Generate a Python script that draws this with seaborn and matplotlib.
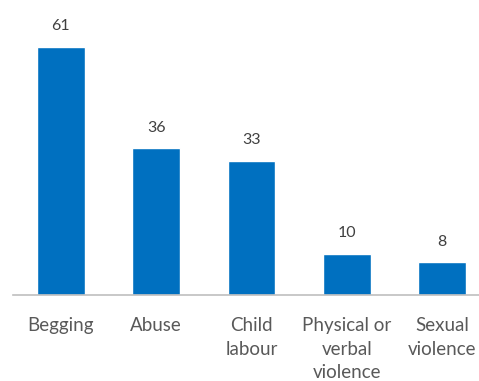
import matplotlib
matplotlib.use("Agg")
import matplotlib.pyplot as plt
import seaborn as sns
import pandas as pd

categories = ["Begging", "Abuse", "Child\nlabour", "Physical or\nverbal\nviolence", "Sexual\nviolence"]
values = [61, 36, 33, 10, 8]

sns.set_style("white")
plt.rcParams['font.family'] = ['Lato', 'DejaVu Sans']

df = pd.DataFrame({"cat": categories, "val": values})
fig = plt.figure(figsize=(4.79, 3.81), dpi=100)
ax = fig.add_axes([13/479, (381-295)/381, 477/479, (295-10)/381])
sns.barplot(data=df, x="cat", y="val", color="#0070C0", saturation=1, width=0.5, ax=ax)
ax.set_ylim(0, 70)
ax.set_xlim(-0.5, 4.5)
for s in ["top", "right", "left"]:
    ax.spines[s].set_visible(False)
ax.spines["bottom"].set_color("#BFBFBF")
ax.spines["bottom"].set_linewidth(1.2)
ax.set_yticks([])
ax.set_xlabel("")
ax.set_ylabel("")
ax.tick_params(axis="x", length=0, pad=16, labelsize=13.5, labelcolor="#595959")
for t in ax.get_xticklabels():
    t.set_linespacing(1.45)
    t.set_verticalalignment("top")
for c in ax.containers:
    ax.bar_label(c, padding=10, fontsize=11.5, color="#404040")
fig.savefig("out.png", dpi=100)
